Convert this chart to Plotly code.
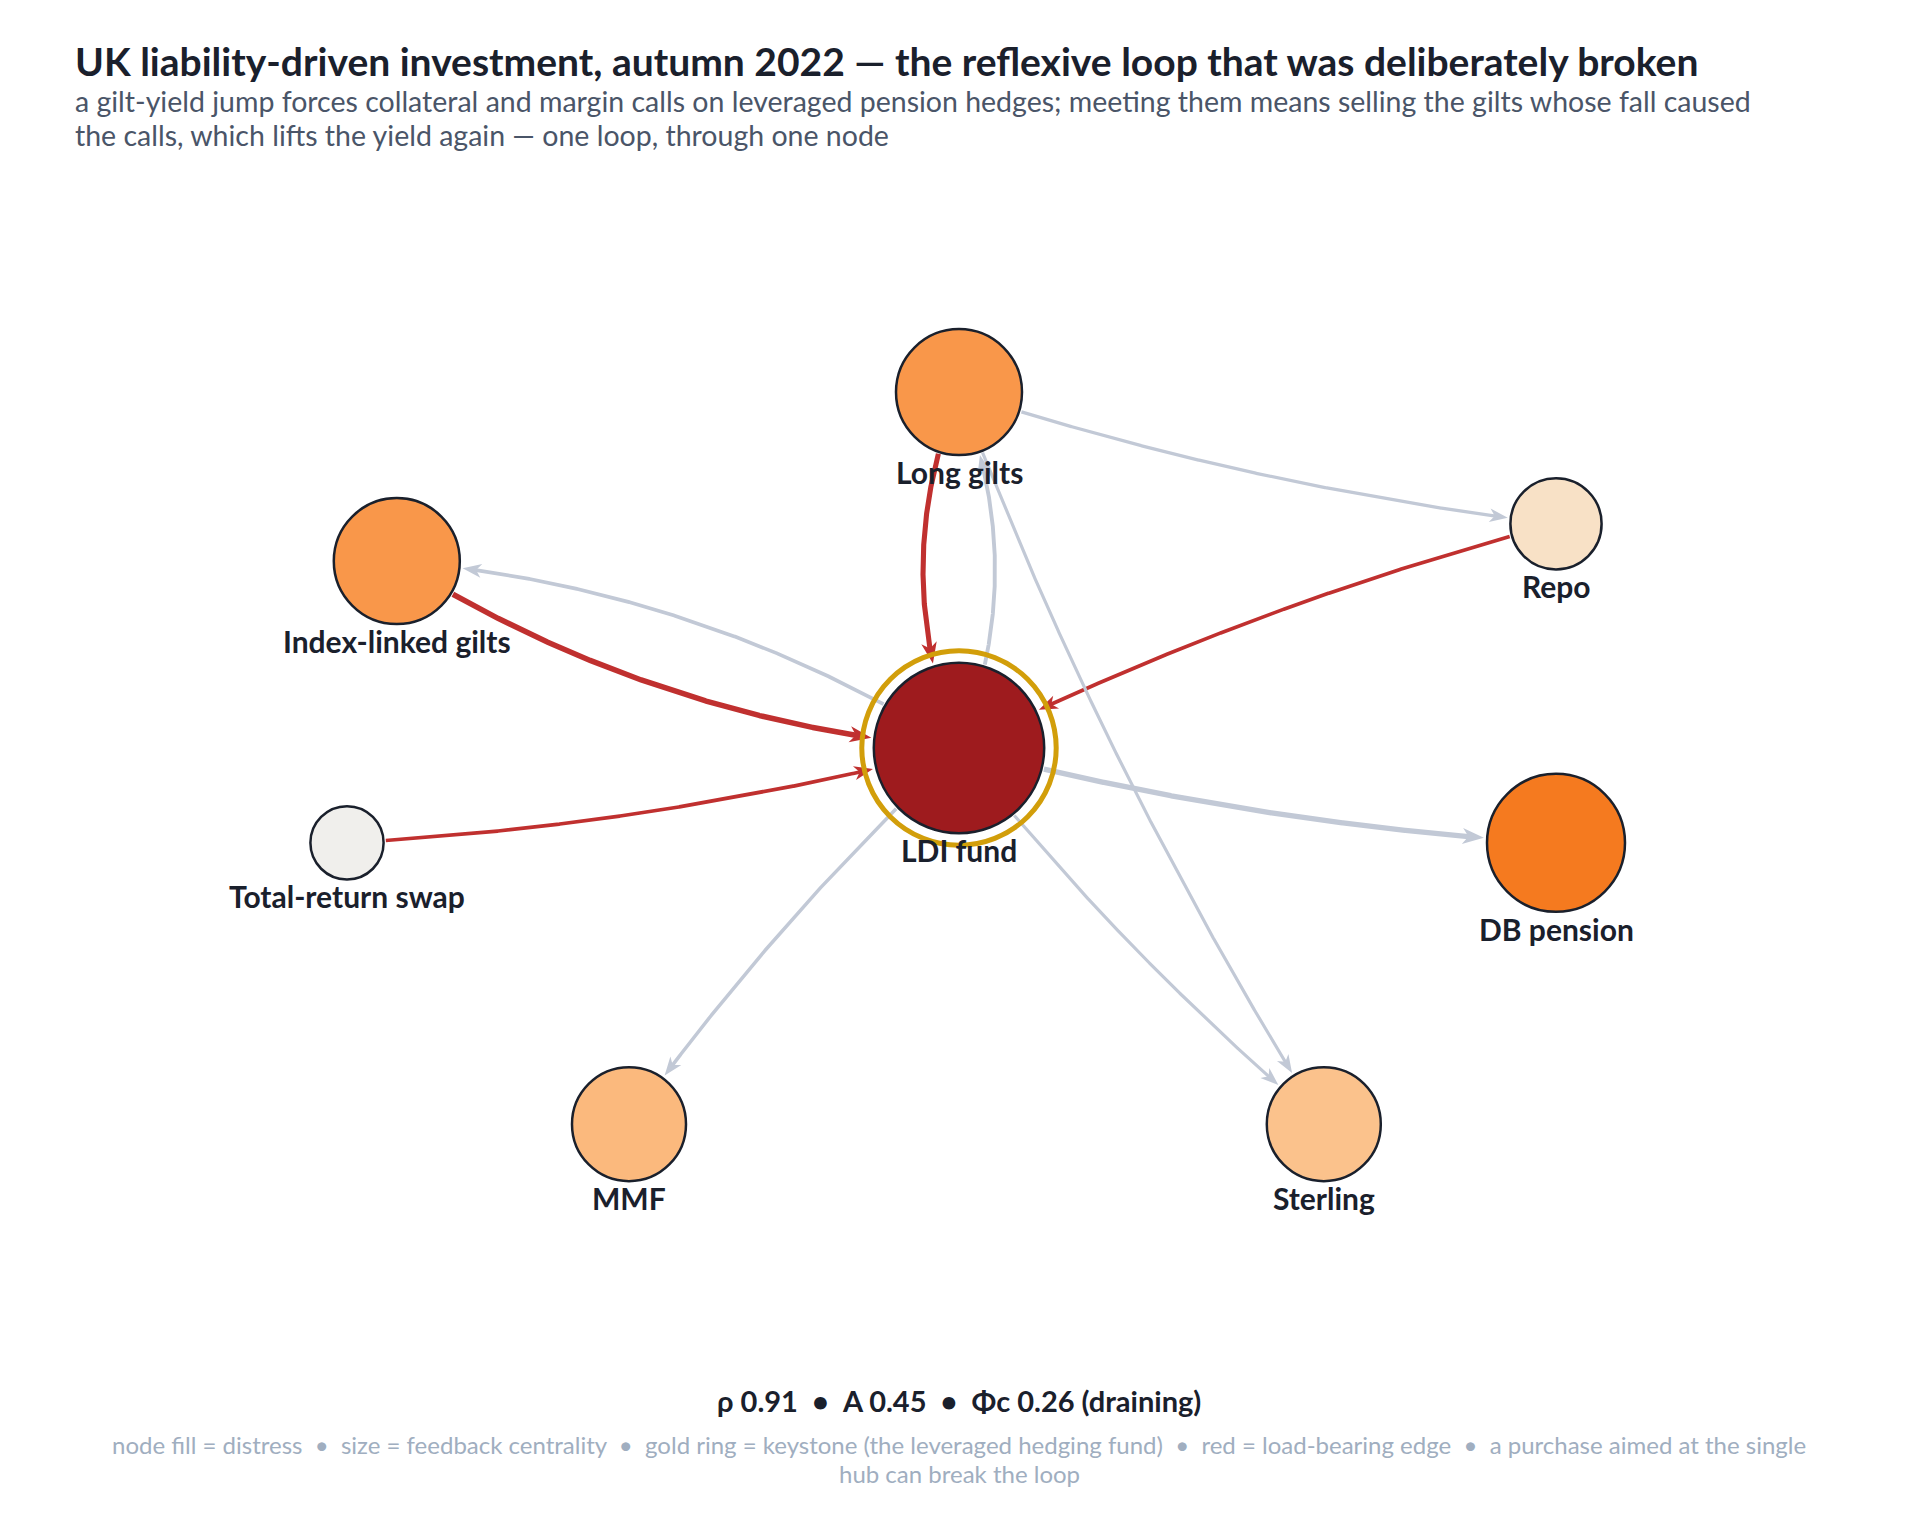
import numpy as np
import plotly.graph_objects as go

# ---- data ----------------------------------------------------------------
nodes = ["Long gilts", "Repo", "Index-linked gilts", "LDI fund",
         "Total-return swap", "DB pension", "MMF", "Sterling"]
distress = [0.55, 0.20, 0.55, 1.00, 0.00, 0.70, 0.42, 0.38]
centrality = [0.55, 0.26, 0.55, 0.92, 0.11, 0.65, 0.45, 0.45]
keystone = "LDI fund"

edge_src = ["Long gilts", "Index-linked gilts", "Repo", "Total-return swap",
            "LDI fund", "LDI fund", "LDI fund", "LDI fund", "LDI fund",
            "Long gilts", "Long gilts"]
edge_dst = ["LDI fund", "LDI fund", "LDI fund", "LDI fund",
            "Long gilts", "Index-linked gilts", "DB pension", "MMF", "Sterling",
            "Repo", "Sterling"]
edge_weight = [0.70, 0.80, 0.35, 0.35,
               0.40, 0.35, 0.75, 0.30, 0.22,
               0.25, 0.22]
load_bearing = [True, True, True, True,
                False, False, False, False, False,
                False, False]

rho, a_val, phi_c = 0.91, 0.45, 0.26
regime = "draining"

# node layout, abstract units, keystone at the origin
pos = {
    "LDI fund": (0.0, 0.0),
    "Long gilts": (0.0, 0.754),
    "Repo": (0.995, 0.475),
    "Index-linked gilts": (-0.937, 0.396),
    "Total-return swap": (-1.02, -0.201),
    "DB pension": (0.995, -0.201),
    "MMF": (-0.55, -0.797),
    "Sterling": (0.608, -0.797),
}

# ---- styling ---------------------------------------------------------------
PAGE = 8                   # default body margin of the html page
W, H = 1920 - PAGE, 1514 - PAGE
SX, SY = 600.0, 472.0      # px per layout unit
OX, OY = 959.0 - PAGE, 748.0 - PAGE
FONT = "Lato, 'Source Sans Pro', Roboto, sans-serif"
INK = "#1a202c"
RED = "#c0302f"
GREY = "#c2c9d6"
GOLD = "#d29e0a"
dist_scale = [[0.0, "#f0efec"], [0.2, "#f8e1c6"], [0.4, "#fbbe85"],
              [0.55, "#f9974a"], [0.7, "#f57a1f"], [1.0, "#9e1b1e"]]

diam = {n: 60 + 120 * c for n, c in zip(nodes, centrality)}


def to_px(p):
    return np.array([OX + p[0] * SX, OY - p[1] * SY])


def to_data(q):
    q = np.atleast_2d(q)
    return (q[:, 0] - OX) / SX, (OY - q[:, 1]) / SY


def py(y):
    # page pixel row -> paper fraction
    return 1 - (y - PAGE) / H


fig = go.Figure()

pairs = set(zip(edge_src, edge_dst))
t = np.linspace(0, 1, 1201)[:, None]
heads = {True: ([], []), False: ([], [])}

for s, d, w, red in zip(edge_src, edge_dst, edge_weight, load_bearing):
    lw = 2.3 + 4 * w
    p0, p2 = to_px(pos[s]), to_px(pos[d])
    v = p2 - p0
    L = np.hypot(*v)
    u = v / L
    nrm = np.array([-u[1], u[0]])          # right-hand side of travel on screen
    dev = 36.0 if (d, s) in pairs else 0.025 * L
    c = (p0 + p2) / 2 + nrm * 2 * dev
    curve = (1 - t) ** 2 * p0 + 2 * (1 - t) * t * c + t ** 2 * p2

    ds = np.hypot(*(curve - p0).T)
    dt = np.hypot(*(curve - p2).T)
    i0 = np.argmax(ds >= diam[s] / 2 + 2)
    i1 = len(curve) - 1 - np.argmax((dt >= diam[d] / 2 + 3)[::-1])
    tip = curve[i1]

    hl = 13 + 1.6 * lw
    back = np.hypot(*(curve[:i1 + 1] - tip).T)
    j = np.nonzero(back >= hl)[0][-1]
    k = np.nonzero(back >= 0.65 * hl)[0][-1]
    uu = (tip - curve[j]) / np.hypot(*(tip - curve[j]))
    nn = np.array([-uu[1], uu[0]])
    poly = np.array([tip,
                     tip - hl * uu + 0.37 * hl * nn,
                     tip - 0.72 * hl * uu,
                     tip - hl * uu - 0.37 * hl * nn,
                     tip])

    lx, ly = to_data(curve[i0:k + 1])
    fig.add_trace(go.Scatter(x=lx, y=ly, mode="lines", hoverinfo="skip",
                             line=dict(color=RED if red else GREY, width=lw),
                             showlegend=False))
    hx, hy = to_data(poly)
    heads[red][0].extend(list(hx) + [None])
    heads[red][1].extend(list(hy) + [None])

for red in (False, True):
    fig.add_trace(go.Scatter(x=heads[red][0], y=heads[red][1], mode="lines",
                             fill="toself", fillcolor=RED if red else GREY,
                             line=dict(width=0, color=RED if red else GREY),
                             hoverinfo="skip", showlegend=False))

# nodes
fig.add_trace(go.Scatter(
    x=[pos[n][0] for n in nodes], y=[pos[n][1] for n in nodes],
    mode="markers", text=nodes, hoverinfo="text", showlegend=False,
    marker=dict(size=[diam[n] for n in nodes], color=distress,
                colorscale=dist_scale, cmin=0, cmax=1,
                line=dict(color=INK, width=2.5), opacity=1)))

# keystone ring
fig.add_trace(go.Scatter(
    x=[pos[keystone][0]], y=[pos[keystone][1]], mode="markers",
    hoverinfo="skip", showlegend=False,
    marker=dict(size=diam[keystone] + 24, color="rgba(0,0,0,0)",
                line=dict(color=GOLD, width=5))))

# node labels
for n in nodes:
    fig.add_annotation(x=pos[n][0], y=pos[n][1], text="<b>%s</b>" % n,
                       showarrow=False, xanchor="center", yanchor="middle",
                       yshift=-(diam[n] / 2 + 17),
                       font=dict(family=FONT, size=30, color=INK))

title = "<b>UK liability-driven investment, autumn 2022 — the reflexive loop that was deliberately broken</b>"
subtitle = ["a gilt-yield jump forces collateral and margin calls on leveraged pension hedges; "
            "meeting them means selling the gilts whose fall caused",
            "the calls, which lifts the yield again — one loop, through one node"]
stats = "<b>ρ %.2f  •  A %.2f  •  Φc %.2f (%s)</b>" % (rho, a_val, phi_c, regime)
footer = ["node fill = distress  •  size = feedback centrality  •  gold ring = keystone "
          "(the leveraged hedging fund)  •  red = load-bearing edge  •  a purchase aimed at the single",
          "hub can break the loop"]

fig.add_annotation(xref="paper", yref="paper", x=0.0, xshift=73 - PAGE, y=py(61),
                   text=title, showarrow=False, xanchor="left", yanchor="middle",
                   font=dict(family=FONT, size=39, color=INK))
for i, line in enumerate(subtitle):
    fig.add_annotation(xref="paper", yref="paper", x=0.0, xshift=73 - PAGE,
                       y=py(101.5 + 33 * i), text=line, showarrow=False,
                       xanchor="left", yanchor="middle",
                       font=dict(family=FONT, size=28.5, color="#4a5568"))
fig.add_annotation(xref="paper", yref="paper", x=0.0, xshift=959 - PAGE, y=py(1400),
                   text=stats, showarrow=False, xanchor="center", yanchor="middle",
                   font=dict(family=FONT, size=29, color=INK))
for i, line in enumerate(footer):
    fig.add_annotation(xref="paper", yref="paper", x=0.0, xshift=959 - PAGE,
                       y=py(1444 + 29 * i), text=line, showarrow=False,
                       xanchor="center", yanchor="middle",
                       font=dict(family=FONT, size=24, color="#a0aec0"))

fig.update_xaxes(range=[-OX / SX, (W - OX) / SX], visible=False, fixedrange=True)
fig.update_yaxes(range=[-(H - OY) / SY, OY / SY], visible=False, fixedrange=True)
fig.update_layout(width=W, height=H, margin=dict(l=0, r=0, t=0, b=0),
                  paper_bgcolor="white", plot_bgcolor="white",
                  font=dict(family=FONT), hovermode="closest")

fig.write_html("out.html")
